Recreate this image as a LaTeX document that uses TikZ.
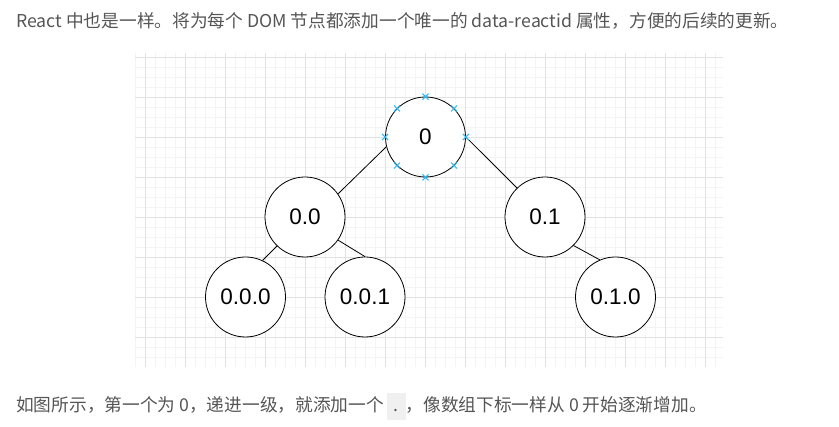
\documentclass[tikz,border=0pt]{standalone}
\usepackage{fontspec}
\setmainfont{Liberation Sans}
\newfontfamily\cjk{Noto Sans CJK SC}
\usepackage{tikz}
\usetikzlibrary{positioning}
\definecolor{txtgray}{HTML}{555555}
\definecolor{gridmaj}{HTML}{E2E2E2}
\definecolor{gridmin}{HTML}{F4F4F4}
\definecolor{pointblue}{HTML}{29B6F2}
\definecolor{codebg}{HTML}{F0F0F0}
\tikzset{
  idnode/.style={circle, draw=black, line width=0.8pt, fill=white, inner sep=0pt,
                 minimum size=80pt, font=\fontsize{22.5}{26}\selectfont},
  para/.style={anchor=west, inner sep=0pt, text=txtgray, font=\cjk\fontsize{17.7}{21}\selectfont},
  link/.style={line width=0.8pt, draw=black},
  gridminor/.style={line width=0.6pt, draw=gridmin},
  gridmajor/.style={line width=0.8pt, draw=gridmaj},
  hook/.style={line width=1pt, draw=pointblue},
}

\begin{document}
\begin{tikzpicture}[x=1pt, y=-1pt, node distance=80pt, on grid]
    \useasboundingbox (0,0) rectangle (839,427);
    \begin{scope}
      \clip (135,53) rectangle (723,367);
      \foreach \gx in {135,145,...,725} \draw[gridminor] (\gx,53) -- (\gx,367);
      \foreach \gy in {47,57,...,367} \draw[gridminor] (135,\gy) -- (723,\gy);
      \foreach \gx in {145,185,...,705} \draw[gridmajor] (\gx,53) -- (\gx,367);
      \foreach \gy in {57,97,...,337} \draw[gridmajor] (135,\gy) -- (723,\gy);
    \end{scope}
    \node[para] (intro) at (16,21)
      {React 中也是一样。将为每个 DOM 节点都添加一个唯一的 data-reactid 属性，方便的后续的更新。};
    \node[idnode] (root) at (425.5,137) {0};
    \node[idnode, below left=80pt and 120.5pt of root] (n00) {0.0};
    \node[idnode, below right=80pt and 119.5pt of root] (n01) {0.1};
    \node[idnode, below left=80pt and 59.5pt of n00] (n000) {0.0.0};
    \node[idnode, below right=80pt and 60pt of n00] (n001) {0.0.1};
    \node[idnode, below right=80pt and 70.5pt of n01] (n010) {0.1.0};
    \draw[link] (root.194) -- (n00.35);
    \draw[link] (root.0) -- (n01.134);
    \draw[link] (n00.226) -- (n000.65);
    \draw[link] (n00.325) -- (n001.90);
    \draw[link] (n01.315) -- (n010.113);
    \foreach \a in {0,45,...,315}
      \draw[hook] ([shift={(-3pt,-3pt)}]root.\a) -- ++(6pt,6pt)
                  ([shift={(-3pt,3pt)}]root.\a) -- ++(6pt,-6pt);
    \node[para] (outro) at (16,407)
      {如图所示，第一个为 0，递进一级，就添加一个\,\colorbox{codebg}{\strut\ .\ }，像数组下标一样从 0 开始逐渐增加。};
\end{tikzpicture}
\end{document}
